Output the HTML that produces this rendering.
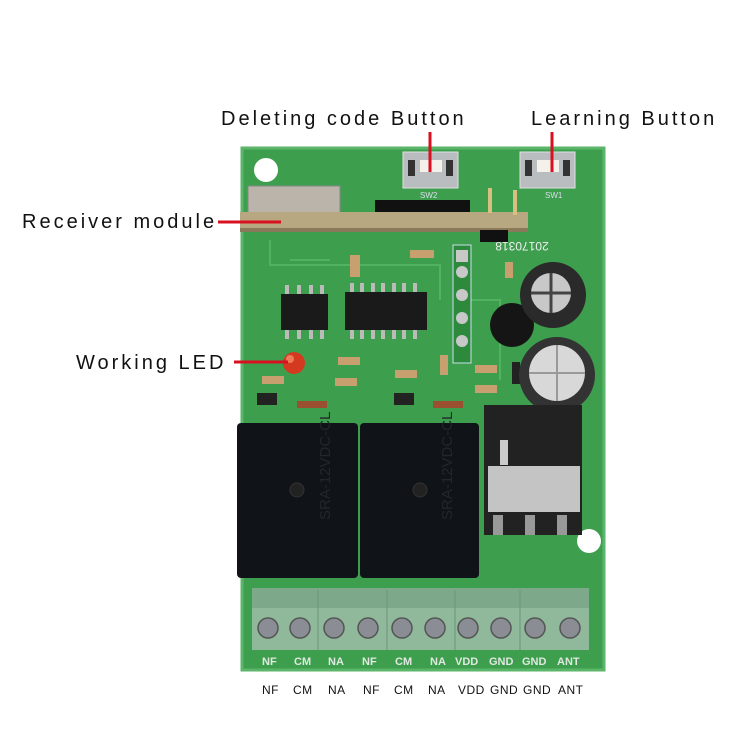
<!DOCTYPE html>
<html><head><style>
body{margin:0;background:#fff;width:750px;height:750px;overflow:hidden}
svg{display:block}
text{font-family:"Liberation Sans",sans-serif}
</style></head><body>
<svg width="750" height="750" viewBox="0 0 750 750">
<rect width="750" height="750" fill="#fff"/>
<rect x="242" y="148" width="362" height="522" fill="#3d9e4e"/>
<rect x="242" y="148" width="362" height="522" fill="none" stroke="#5bb66a" stroke-width="3"/>
<circle cx="266" cy="170" r="12" fill="#fff"/>
<circle cx="589" cy="541" r="12" fill="#fff"/>
<g stroke="#56b866" stroke-width="2" fill="none" opacity="0.8">
<path d="M270 240 V265 H440 V300"/><path d="M290 260 H330"/><path d="M470 300 H500 V380"/>
</g>
<rect x="403" y="152" width="55" height="36" fill="#b9bdbf" stroke="#e0e0e0"/>
<rect x="420" y="160" width="22" height="12" fill="#f4f0ea"/>
<rect x="408" y="160" width="7" height="16" fill="#333"/><rect x="446" y="160" width="7" height="16" fill="#333"/>
<rect x="520" y="152" width="55" height="36" fill="#b9bdbf" stroke="#e0e0e0"/>
<rect x="537" y="160" width="22" height="12" fill="#f4f0ea"/>
<rect x="525" y="160" width="7" height="16" fill="#333"/><rect x="563" y="160" width="7" height="16" fill="#333"/>
<text x="420" y="198" font-size="8" fill="#dde">SW2</text><text x="545" y="198" font-size="8" fill="#dde">SW1</text>
<rect x="375" y="200" width="95" height="15" fill="#111"/>
<rect x="248" y="186" width="92" height="30" fill="#bab4aa" stroke="#888"/>
<rect x="240" y="212" width="288" height="20" fill="#b8a882"/>
<rect x="240" y="228" width="288" height="4" fill="#8a7a5a"/>
<rect x="480" y="230" width="28" height="12" fill="#111"/>
<rect x="488" y="188" width="4" height="25" fill="#d9c080"/><rect x="513" y="190" width="4" height="25" fill="#d9c080"/>
<text x="522" y="252" font-size="12" fill="#f0f0f0" text-anchor="middle" transform="rotate(180 522 247)">20170318</text>
<rect x="453" y="245" width="18" height="118" fill="#2d8a3d" stroke="#cde" stroke-width="1"/>
<g fill="#c8c8c8"><circle cx="462" cy="272" r="6"/><circle cx="462" cy="295" r="6"/><circle cx="462" cy="318" r="6"/><circle cx="462" cy="341" r="6"/><rect x="456" y="250" width="12" height="12"/></g>
<rect x="281" y="294" width="47" height="36" fill="#1a1a1a"/>
<rect x="345" y="292" width="82" height="38" fill="#1a1a1a"/>
<g fill="#bbb">
<rect x="285" y="285" width="4" height="9"/><rect x="297" y="285" width="4" height="9"/><rect x="309" y="285" width="4" height="9"/><rect x="320" y="285" width="4" height="9"/>
<rect x="285" y="330" width="4" height="9"/><rect x="297" y="330" width="4" height="9"/><rect x="309" y="330" width="4" height="9"/><rect x="320" y="330" width="4" height="9"/>
<rect x="350" y="283" width="4" height="9"/><rect x="360" y="283" width="4" height="9"/><rect x="371" y="283" width="4" height="9"/><rect x="381" y="283" width="4" height="9"/><rect x="392" y="283" width="4" height="9"/><rect x="402" y="283" width="4" height="9"/><rect x="413" y="283" width="4" height="9"/>
<rect x="350" y="330" width="4" height="9"/><rect x="360" y="330" width="4" height="9"/><rect x="371" y="330" width="4" height="9"/><rect x="381" y="330" width="4" height="9"/><rect x="392" y="330" width="4" height="9"/><rect x="402" y="330" width="4" height="9"/><rect x="413" y="330" width="4" height="9"/>
</g>
<g fill="#c8a070"><rect x="350" y="255" width="10" height="22"/><rect x="410" y="250" width="24" height="8"/><rect x="338" y="357" width="22" height="8"/><rect x="335" y="378" width="22" height="8"/><rect x="395" y="370" width="22" height="8"/><rect x="475" y="365" width="22" height="8"/><rect x="475" y="385" width="22" height="8"/><rect x="440" y="355" width="8" height="20"/><rect x="505" y="262" width="8" height="16"/><rect x="262" y="376" width="22" height="8"/></g>
<g fill="#222"><rect x="257" y="393" width="20" height="12"/><rect x="394" y="393" width="20" height="12"/><rect x="512" y="362" width="8" height="22"/></g>
<g fill="#9a5030"><rect x="297" y="401" width="30" height="7"/><rect x="433" y="401" width="30" height="7"/></g>
<circle cx="294" cy="363" r="11" fill="#d43a20"/><circle cx="290" cy="359" r="4" fill="#f07a5a"/>
<circle cx="512" cy="325" r="22" fill="#151515"/>
<circle cx="553" cy="295" r="33" fill="#2a2a2a"/><circle cx="551" cy="293" r="20" fill="#c8c8c8"/><path d="M551 273 V313 M531 293 H571" stroke="#444" stroke-width="3"/>
<circle cx="557" cy="375" r="38" fill="#333"/><circle cx="557" cy="373" r="28" fill="#d8d8d8"/><path d="M557 345 V401 M529 373 H585" stroke="#999" stroke-width="2"/>
<rect x="484" y="405" width="98" height="130" fill="#222"/>
<rect x="488" y="466" width="92" height="46" fill="#c4c4c4"/>
<rect x="500" y="440" width="8" height="25" fill="#ccc"/>
<rect x="493" y="515" width="10" height="20" fill="#999"/><rect x="525" y="515" width="10" height="20" fill="#999"/><rect x="557" y="515" width="10" height="20" fill="#999"/>
<rect x="237" y="423" width="121" height="155" rx="4" fill="#101418"/>
<rect x="360" y="423" width="119" height="155" rx="4" fill="#101418"/>
<circle cx="297" cy="490" r="7" fill="#222" stroke="#333"/><circle cx="420" cy="490" r="7" fill="#222" stroke="#333"/>
<text x="330" y="520" font-size="15" fill="#22272d" transform="rotate(-90 330 520)">SRA-12VDC-CL</text>
<text x="452" y="520" font-size="15" fill="#22272d" transform="rotate(-90 452 520)">SRA-12VDC-CL</text>
<rect x="252" y="588" width="337" height="62" fill="#8fb99a"/>
<rect x="252" y="588" width="337" height="20" fill="#7ea88a"/>
<g stroke="#6d9479" stroke-width="1"><line x1="318" y1="590" x2="318" y2="650"/><line x1="387" y1="590" x2="387" y2="650"/><line x1="455" y1="590" x2="455" y2="650"/><line x1="520" y1="590" x2="520" y2="650"/></g>
<g fill="#8a8d94" stroke="#555" stroke-width="1.5">
<circle cx="268" cy="628" r="10"/><circle cx="300" cy="628" r="10"/><circle cx="334" cy="628" r="10"/><circle cx="368" cy="628" r="10"/><circle cx="402" cy="628" r="10"/><circle cx="435" cy="628" r="10"/><circle cx="468" cy="628" r="10"/><circle cx="501" cy="628" r="10"/><circle cx="535" cy="628" r="10"/><circle cx="570" cy="628" r="10"/>
</g>
<g font-family="Liberation Serif" font-size="11" font-weight="bold" fill="#e0e8e0">
<text x="262" y="665">NF</text><text x="294" y="665">CM</text><text x="328" y="665">NA</text><text x="362" y="665">NF</text><text x="395" y="665">CM</text><text x="430" y="665">NA</text><text x="455" y="665">VDD</text><text x="489" y="665">GND</text><text x="522" y="665">GND</text><text x="557" y="665">ANT</text>
</g>
<g font-size="12" fill="#111" letter-spacing="0.5">
<text x="262" y="694">NF</text><text x="293" y="694">CM</text><text x="328" y="694">NA</text><text x="363" y="694">NF</text><text x="394" y="694">CM</text><text x="428" y="694">NA</text><text x="458" y="694">VDD</text><text x="490" y="694">GND</text><text x="523" y="694">GND</text><text x="558" y="694">ANT</text>
</g>
<g stroke="#d81020" stroke-width="3">
<line x1="430" y1="132" x2="430" y2="172"/><line x1="552" y1="132" x2="552" y2="172"/>
<line x1="218" y1="222" x2="281" y2="222"/><line x1="234" y1="362" x2="288" y2="362"/>
</g>
<g font-size="20" fill="#111" letter-spacing="3">
<text x="221" y="125">Deleting code Button</text>
<text x="531" y="125">Learning Button</text>
<text x="22" y="228">Receiver module</text>
<text x="76" y="369">Working LED</text>
</g>
</svg>
</body></html>
